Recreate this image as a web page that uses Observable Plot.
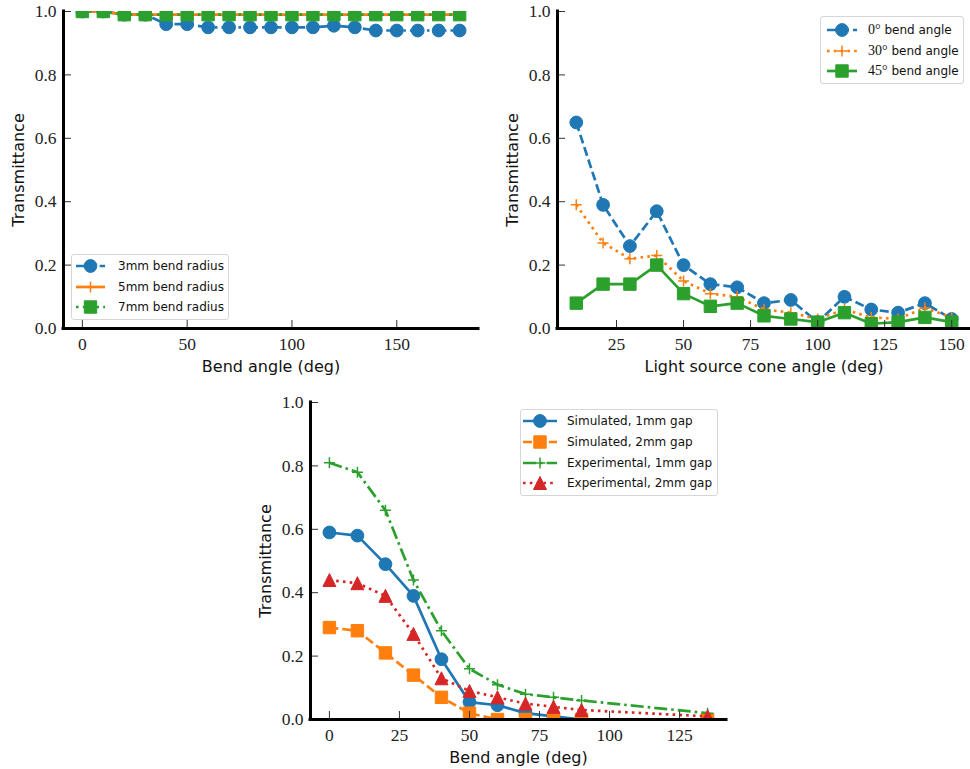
<!DOCTYPE html>
<html><head><meta charset="utf-8">
<script src="https://cdn.jsdelivr.net/npm/d3@7"></script>
<script src="https://cdn.jsdelivr.net/npm/@observablehq/plot@0.6"></script>
<style>
html,body{margin:0;padding:0;background:#fff;}
#fig{position:relative;width:970px;height:769px;overflow:hidden;background:#fff;}
.panel{position:absolute;}
.legend{position:absolute;background:rgba(255,255,255,0.85);border:1px solid #d6d6d6;border-radius:3px;box-sizing:border-box;font-family:"DejaVu Sans",sans-serif;font-size:12px;color:#111;}
.legend svg{position:absolute;overflow:visible;}
.legend span.t{position:absolute;white-space:nowrap;line-height:20px;height:20px;}
.serif{font-family:"Liberation Serif","DejaVu Serif",serif;font-size:14px;}
</style></head><body><div id="fig"></div>
<script>
// ---------- data ----------
const tlAngles  = [0,10,20,30,40,50,60,70,80,90,100,110,120,130,140,150,160,170,180];
const radius3mm = [1.00,1.00,0.99,0.99,0.96,0.96,0.95,0.95,0.95,0.95,0.95,0.95,0.955,0.95,0.94,0.94,0.94,0.94,0.94];
const radius5mm = [1.00,1.00,0.99,0.99,0.99,0.99,0.99,0.99,0.99,0.99,0.99,0.99,0.99,0.99,0.99,0.99,0.99,0.99,0.99];
const radius7mm = [1.00,1.00,0.99,0.99,0.99,0.99,0.99,0.99,0.99,0.99,0.99,0.99,0.99,0.99,0.99,0.99,0.99,0.99,0.99];

const coneAngles = [10,20,30,40,50,60,70,80,90,100,110,120,130,140,150];
const bend0deg  = [0.65,0.39,0.26,0.37,0.20,0.14,0.13,0.08,0.09,0.02,0.10,0.06,0.05,0.08,0.03];
const bend30deg = [0.39,0.27,0.22,0.23,0.15,0.11,0.10,0.06,0.05,0.03,0.06,0.035,0.03,0.065,0.035];
const bend45deg = [0.08,0.14,0.14,0.20,0.11,0.07,0.08,0.04,0.03,0.02,0.05,0.015,0.02,0.035,0.02];

const gapAngles = [0,10,20,30,40,50,60,70,80,90,135];
const sim1mm = [0.59,0.58,0.49,0.39,0.19,0.055,0.045,0.02,0.01,0.0,0.0];
const sim2mm = [0.29,0.28,0.21,0.14,0.07,0.02,0.0,0.0,0.0,0.0,0.0];
const exp1mm = [0.81,0.78,0.66,0.44,0.28,0.16,0.11,0.08,0.07,0.06,0.02];
const exp2mm = [0.44,0.43,0.39,0.27,0.13,0.09,0.07,0.05,0.04,0.03,0.01];

const yTicks = [0,0.2,0.4,0.6,0.8,1.0];
const tlXTicks = [0,50,100,150];
const trXTicks = [25,50,75,100,125,150];
const bXTicks = [0,25,50,75,100,125];

// ---------- styles ----------
const BLUE="#1f77b4", ORANGE="#ff7f0e", GREEN="#2ca02c", RED="#d62728";
const SANS = "DejaVu Sans";
const SERIF = "Liberation Serif";
const LW = 2.7;
const DASH = {solid:null, dashed:"9,4", dotted:"2.6,4.2", dashdot:"13,4,2.6,4"};
const SYM = {
  circle:{draw(c){const r=6.4;c.moveTo(r,0);c.arc(0,0,r,0,2*Math.PI);c.closePath();}},
  square:{draw(c){const h=6.2;c.rect(-h,-h,2*h,2*h);}},
  plus:{draw(c){const h=5.5;c.moveTo(-h,0);c.lineTo(h,0);c.moveTo(0,-h);c.lineTo(0,h);}},
  triangle:{draw(c){const h=6.5;c.moveTo(0,-h);c.lineTo(h,h);c.lineTo(-h,h);c.closePath();}}
};

const fig = document.getElementById("fig");

function panel(cfg){
  const {left,top,width,height,mL,mR,mT,mB,xDomain,xTicks,xLabel,series} = cfg;
  const fw = width-mL-mR, fh = height-mT-mB;
  const marks = [];
  for (const s of series){
    const data = s.x.map((x,i)=>({x, y:s.y[i]}));
    marks.push(Plot.line(data,{x:"x",y:"y",stroke:s.color,strokeWidth:LW,strokeDasharray:DASH[s.dash],strokeLinecap:"butt",strokeLinejoin:"round",clip:true}));
    const isPlus = s.marker==="plus";
    marks.push(Plot.dot(data,{x:"x",y:"y",symbol:SYM[s.marker],r:6,fill:isPlus?"none":s.color,stroke:s.color,strokeWidth:isPlus?1.5:1,clip:true}));
  }
  marks.push(Plot.tickX(xTicks,{x:d=>d,insetTop:fh-8,stroke:"#333",strokeWidth:1}));
  marks.push(Plot.tickY(yTicks,{y:d=>d,insetRight:fw-8,stroke:"#333",strokeWidth:1}));
  marks.push(Plot.ruleY([0],{stroke:"#000",strokeWidth:3,strokeLinecap:"square"}));
  marks.push(Plot.ruleX([xDomain[0]],{stroke:"#000",strokeWidth:3,strokeLinecap:"square"}));
  marks.push(Plot.axisX({ticks:xTicks,tickSize:0,tickPadding:9,label:null,tickFormat:d=>String(d),fontFamily:SERIF,fontSize:17.5,fill:"#222"}));
  marks.push(Plot.axisY({ticks:yTicks,tickSize:0,tickPadding:7,label:null,tickFormat:d3.format(".1f"),fontFamily:SERIF,fontSize:17.5,fill:"#222"}));
  marks.push(Plot.text([xLabel],{text:d=>d,frameAnchor:"bottom",dy:38,fontFamily:SANS,fontSize:16,lineAnchor:"middle",fill:"#111"}));
  marks.push(Plot.text(["Transmittance"],{text:d=>d,frameAnchor:"left",dx:-45,rotate:-90,fontFamily:SANS,fontSize:16,lineAnchor:"middle",textAnchor:"middle",fill:"#111"}));
  const svg = Plot.plot({
    width,height,marginLeft:mL,marginRight:mR,marginTop:mT,marginBottom:mB,
    x:{domain:xDomain},y:{domain:[0,1]},
    style:{background:"transparent",overflow:"visible"},
    marks
  });
  const wrap = document.createElement("div");
  wrap.className="panel";
  wrap.style.left=left+"px"; wrap.style.top=top+"px";
  wrap.appendChild(svg);
  fig.appendChild(wrap);
}

function legend(cfg){
  const {left,top,width,height,rows,hx0,hx1,tx} = cfg;
  const box = document.createElement("div");
  box.className="legend";
  Object.assign(box.style,{left:left+"px",top:top+"px",width:width+"px",height:height+"px"});
  for (const r of rows){
    const s = r.s;
    const len = hx1-hx0;
    const ns="http://www.w3.org/2000/svg";
    const svg = document.createElementNS(ns,"svg");
    svg.setAttribute("width",len); svg.setAttribute("height",20);
    svg.style.left=(hx0-left-1)+"px"; svg.style.top=(r.y-top-1-10)+"px";
    const line = document.createElementNS(ns,"line");
    line.setAttribute("x1",0);line.setAttribute("x2",len);line.setAttribute("y1",10);line.setAttribute("y2",10);
    line.setAttribute("stroke",s.color);line.setAttribute("stroke-width",LW);
    if (DASH[s.dash]) line.setAttribute("stroke-dasharray",DASH[s.dash]);
    svg.appendChild(line);
    const p = document.createElementNS(ns,"path");
    p.setAttribute("d",d3.symbol(SYM[s.marker])());
    p.setAttribute("transform",`translate(${len/2},10)`);
    const isPlus = s.marker==="plus";
    p.setAttribute("fill",isPlus?"none":s.color);p.setAttribute("stroke",s.color);p.setAttribute("stroke-width",isPlus?1.5:1);
    svg.appendChild(p);
    box.appendChild(svg);
    const t = document.createElement("span");
    t.className="t"; t.innerHTML=r.label;
    t.style.left=(tx-left-1)+"px"; t.style.top=(r.y-top-1-10)+"px";
    box.appendChild(t);
  }
  fig.appendChild(box);
}

// ---------- series ----------
const tl3 = {x:tlAngles,y:radius3mm,color:BLUE,dash:"dashdot",marker:"circle"};
const tl5 = {x:tlAngles,y:radius5mm,color:ORANGE,dash:"solid",marker:"plus"};
const tl7 = {x:tlAngles,y:radius7mm,color:GREEN,dash:"dotted",marker:"square"};
const tr0 = {x:coneAngles,y:bend0deg,color:BLUE,dash:"dashed",marker:"circle"};
const tr30 = {x:coneAngles,y:bend30deg,color:ORANGE,dash:"dotted",marker:"plus"};
const tr45 = {x:coneAngles,y:bend45deg,color:GREEN,dash:"solid",marker:"square"};
const bs1 = {x:gapAngles,y:sim1mm,color:BLUE,dash:"solid",marker:"circle"};
const bs2 = {x:gapAngles,y:sim2mm,color:ORANGE,dash:"dashed",marker:"square"};
const be1 = {x:gapAngles,y:exp1mm,color:GREEN,dash:"dashdot",marker:"plus"};
const be2 = {x:gapAngles,y:exp2mm,color:RED,dash:"dotted",marker:"triangle"};

panel({left:0,top:0,width:485,height:385,mL:63,mR:7,mT:11,mB:57,xDomain:[-9,189],xTicks:tlXTicks,xLabel:"Bend angle (deg)",series:[tl3,tl5,tl7]});
panel({left:485,top:0,width:485,height:385,mL:72,mR:0,mT:11,mB:57,xDomain:[3,157],xTicks:trXTicks,xLabel:"Light source cone angle (deg)",series:[tr0,tr30,tr45]});
panel({left:240,top:385,width:490,height:384,mL:70,mR:4,mT:17,mB:50,xDomain:[-6.75,141.75],xTicks:bXTicks,xLabel:"Bend angle (deg)",series:[bs1,bs2,be1,be2]});

legend({left:71,top:254,width:158,height:66,hx0:76,hx1:105,tx:118,rows:[
  {y:266,s:tl3,label:"3mm bend radius"},
  {y:286.5,s:tl5,label:"5mm bend radius"},
  {y:307,s:tl7,label:"7mm bend radius"}]});
legend({left:820,top:16,width:144,height:68,hx0:827,hx1:857,tx:868,rows:[
  {y:29.5,s:tr0,label:'<span class="serif">0°</span> bend angle'},
  {y:50.5,s:tr30,label:'<span class="serif">30°</span> bend angle'},
  {y:71,s:tr45,label:'<span class="serif">45°</span> bend angle'}]});
legend({left:520,top:409,width:198,height:87,hx0:523,hx1:557,tx:567,rows:[
  {y:421,s:bs1,label:"Simulated, 1mm gap"},
  {y:441.5,s:bs2,label:"Simulated, 2mm gap"},
  {y:462.5,s:be1,label:"Experimental, 1mm gap"},
  {y:483,s:be2,label:"Experimental, 2mm gap"}]});
</script></body></html>
